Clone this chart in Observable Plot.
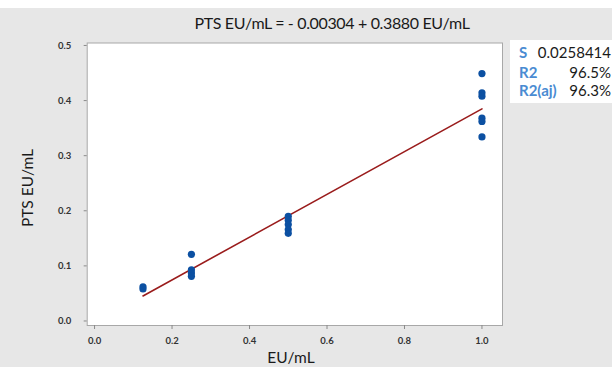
<!DOCTYPE html>
<html>
<head>
<meta charset="utf-8">
<script src="https://cdn.jsdelivr.net/npm/d3@7"></script>
<script src="https://cdn.jsdelivr.net/npm/@observablehq/plot@0.6"></script>
<style>
  html, body { margin: 0; padding: 0; background: #e7e7e7; }
  #wrap { position: relative; width: 612px; height: 367px; overflow: hidden; background: #e7e7e7; font-family: Lato, "Open Sans", sans-serif; }
  #topstrip { position: absolute; left: 0; top: 0; width: 612px; height: 8px; background: #ffffff; }
  #title { position: absolute; left: 332px; top: 22px; transform: translate(-50%, -50%); white-space: nowrap; font-size: 16px; letter-spacing: -0.35px; color: #1a1a1a; }
  #ylabel { position: absolute; left: 27px; top: 188px; transform: translate(-50%, -50%) rotate(-90deg); white-space: nowrap; font-size: 15.5px; color: #1a1a1a; }
  #xlabel { position: absolute; left: 291px; top: 357px; transform: translate(-50%, -50%); white-space: nowrap; font-size: 15.5px; color: #1a1a1a; }
  #legend { position: absolute; left: 510px; top: 40px; width: 102px; height: 63px; background: #ffffff; }
  .lrow { position: absolute; white-space: nowrap; font-size: 15px; transform: translateY(-50%); }
  .lab { color: #4a8bd2; font-weight: bold; }
  .val { color: #1a1a1a; }
  #chart { position: absolute; left: 0; top: 0; }
</style>
</head>
<body>
<div id="wrap">
  <div id="topstrip"></div>
  <div id="chart"></div>
  <div id="title"></div>
  <div id="ylabel"></div>
  <div id="xlabel"></div>
  <div id="legend"></div>
</div>
<script>
// ---- data ----
const euml = [0.125, 0.125, 0.25, 0.25, 0.25, 0.25, 0.5, 0.5, 0.5, 0.5, 0.5, 1, 1, 1, 1, 1, 1];
const pts  = [0.058, 0.062, 0.121, 0.093, 0.087, 0.081, 0.190, 0.183, 0.175, 0.166, 0.159, 0.449, 0.414, 0.408, 0.368, 0.362, 0.334];
const intercept = -0.00304;
const slope = 0.3880;
const xTicks = [0, 0.2, 0.4, 0.6, 0.8, 1.0];
const yTicks = [0, 0.1, 0.2, 0.3, 0.4, 0.5];
const titleText = "PTS EU/mL = - 0.00304 + 0.3880 EU/mL";
const xLabel = "EU/mL";
const yLabel = "PTS EU/mL";
const statLabels = ["S", "R2", "R2(aj)"];
const statValues = ["0.0258414", "96.5%", "96.3%"];

// ---- derived tables ----
const points = euml.map((x, i) => ({x, y: pts[i]}));
const [xmin, xmax] = d3.extent(euml);
const fit = [xmin, xmax].map(x => ({x, y: intercept + slope * x}));

const chart = Plot.plot({
  width: 612,
  height: 367,
  marginLeft: 86.7,
  marginRight: 110,
  marginTop: 42.5,
  marginBottom: 42,
  style: {background: "transparent", fontFamily: "Lato, 'Open Sans', sans-serif", fontSize: "9.5px", fontWeight: "bold", color: "#333333"},
  x: {domain: [-0.019, 1.053], label: null},
  y: {domain: [-0.0082, 0.5045], label: null},
  marks: [
    Plot.frame({fill: "#ffffff", stroke: "#a8a8a8"}),
    Plot.axisX({ticks: xTicks, tickFormat: d3.format(".1f"), tickSize: 4, tickPadding: 8, stroke: "#8a8a8a", label: null}),
    Plot.axisY({ticks: yTicks, tickFormat: d3.format(".1f"), tickSize: 3, tickPadding: 13, stroke: "#8a8a8a", label: null}),
    Plot.line(fit, {x: "x", y: "y", stroke: "#9a1c1c", strokeWidth: 1.6}),
    Plot.dot(points, {x: "x", y: "y", r: 3.6, fill: "#0c50a2", stroke: "none"})
  ]
});
document.getElementById("chart").appendChild(chart);

document.getElementById("title").textContent = titleText;
document.getElementById("xlabel").textContent = xLabel;
document.getElementById("ylabel").textContent = yLabel;

const legend = document.getElementById("legend");
const rowY = [12, 32, 50];
statLabels.forEach((lab, i) => {
  const l = document.createElement("div");
  l.className = "lrow lab";
  l.style.left = "9px";
  l.style.top = rowY[i] + "px";
  l.textContent = lab;
  legend.appendChild(l);
  const v = document.createElement("div");
  v.className = "lrow val";
  v.style.right = "1px";
  v.style.top = rowY[i] + "px";
  v.textContent = statValues[i];
  legend.appendChild(v);
});
</script>
</body>
</html>
